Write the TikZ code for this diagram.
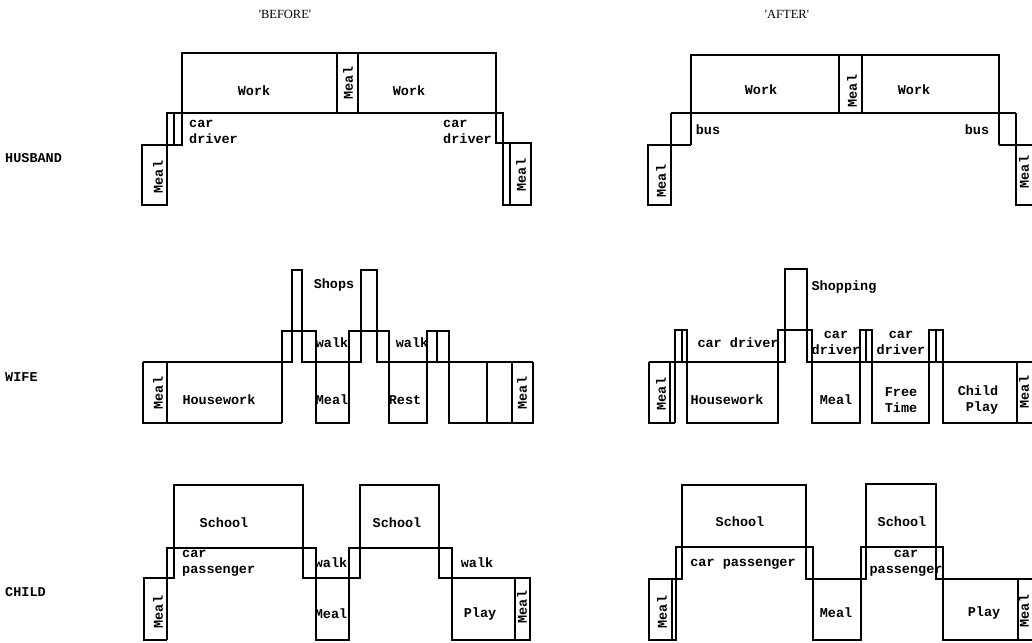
\documentclass[tikz,border=0pt]{standalone}
\usepackage{fontspec}
\setmonofont{Liberation Mono}
\newfontfamily\ttlfont{Liberation Serif}
\usepackage{tikz}
\newcommand\twfont{\fontsize{13.5}{16}\selectfont\ttfamily\bfseries}

\begin{document}
\begin{tikzpicture}[x=1pt,y=-1pt]
    \tikzset{
      tline/.style={line width=1.4pt},
      tlab/.style={font=\twfont, inner sep=0pt, align=center},
      tmeal/.style={tlab, rotate=90},
      trow/.style={font=\twfont, inner sep=0pt, anchor=west},
      ttitle/.style={font=\ttlfont\fontsize{12.5}{14}\selectfont, inner sep=0pt}
    }
    \useasboundingbox (0,0) rectangle (1032,642);

    % Titles and rows
    \node[ttitle] (tbefore) at (285,14) {\textquotesingle BEFORE\textquotesingle};
    \node[ttitle] (tafter) at (787,14) {\textquotesingle AFTER\textquotesingle};
    \node[trow] (rhusband) at (5,158) {HUSBAND};
    \node[trow] (rwife) at (5,377) {WIFE};
    \node[trow] (rchild) at (5,592) {CHILD};

    % Husband, before
    \draw[tline] (182,53) rectangle (496,113);
    \draw[tline] (337,53) -- (337,113) (358,53) -- (358,113);
    \draw[tline] (167,113) rectangle (182,145);
    \draw[tline] (174,113) -- (174,145);
    \draw[tline] (142,145) rectangle (167,205);
    \draw[tline] (496,113) rectangle (503,143);
    \draw[tline] (503,143) rectangle (531,205);
    \draw[tline] (510,143) -- (510,205);
    \node[tlab] (hbwork1) at (254,91) {Work};
    \node[tmeal] (hbmeal2) at (348,83) {Meal};
    \node[tlab] (hbwork2) at (409,91) {Work};
    \node[tlab, anchor=west, align=left] (hbcar1) at (189,132) {car\\driver};
    \node[tlab, anchor=west, align=left] (hbcar2) at (443,132) {car\\driver};
    \node[tmeal] (hbmeal1) at (158,177) {Meal};
    \node[tmeal] (hbmeal3) at (521,175) {Meal};

    % Husband, after
    \draw[tline] (691,55) rectangle (999,113);
    \draw[tline] (839,55) -- (839,113) (862,55) -- (862,113);
    \draw[tline] (671,113) -- (1016,113);
    \draw[tline] (671,113) -- (671,145) (691,113) -- (691,145) (999,113) -- (999,145);
    \draw[tline] (648,145) rectangle (671,205);
    \draw[tline] (671,145) -- (691,145);
    \draw[tline] (999,145) -- (1034,145) (1016,113) -- (1016,205) -- (1034,205);
    \node[tlab] (hawork1) at (761,90) {Work};
    \node[tmeal] (hameal2) at (852,91) {Meal};
    \node[tlab] (hawork2) at (914,90) {Work};
    \node[tlab] (habus1) at (708,130) {bus};
    \node[tlab] (habus2) at (977,130) {bus};
    \node[tmeal] (hameal1) at (661,181) {Meal};
    \node[tmeal] (hameal3) at (1024,172) {Meal};

    % Wife, before
    \draw[tline] (143,362) -- (292,362) -- (292,270) -- (302,270) -- (302,362) -- (361,362)
      -- (361,270) -- (377,270) -- (377,362) -- (533,362);
    \draw[tline] (143,362) -- (143,423) -- (282,423) (167,362) -- (167,423);
    \draw[tline] (282,423) -- (282,331) -- (316,331) -- (316,423) -- (349,423) -- (349,331)
      -- (389,331) -- (389,423) -- (427,423) -- (427,331) -- (449,331) -- (449,423)
      -- (533,423) -- (533,362);
    \draw[tline] (437,331) -- (437,362) (487,362) -- (487,423) (512,362) -- (512,423);
    \node[tlab] (wbshops) at (334,285) {Shops};
    \node[tlab] (wbwalk1) at (332,343) {walk};
    \node[tlab] (wbwalk2) at (412,343) {walk};
    \node[tmeal] (wbmeal1) at (158,393) {Meal};
    \node[tlab] (wbhouse) at (219,400) {Housework};
    \node[tlab] (wbmeal2) at (332,400) {Meal};
    \node[tlab] (wbrest) at (405,400) {Rest};
    \node[tmeal] (wbmeal3) at (522,393) {Meal};

    % Wife, after
    \draw[tline] (649,362) -- (785,362) -- (785,269) -- (807,269) -- (807,362) -- (1034,362);
    \draw[tline] (649,362) -- (649,423) -- (675,423) (670,362) -- (670,423);
    \draw[tline] (675,423) -- (675,330) -- (687,330) -- (687,423) -- (778,423) -- (778,330)
      -- (812,330) -- (812,423) -- (860,423) -- (860,330) -- (872,330) -- (872,423)
      -- (929,423) -- (929,330) -- (943,330) -- (943,423) -- (1034,423);
    \draw[tline] (682,330) -- (682,362) (866,330) -- (866,362) (936,330) -- (936,362)
      (1017,362) -- (1017,423);
    \node[tlab] (washop) at (844,287) {Shopping};
    \node[tlab] (wacar1) at (738,343) {car driver};
    \node[tlab] (wacar2) at (836,343) {car\\driver};
    \node[tlab] (wacar3) at (901,343) {car\\driver};
    \node[tmeal] (wameal1) at (661,394) {Meal};
    \node[tlab] (wahouse) at (727,400) {Housework};
    \node[tlab] (wameal2) at (836,400) {Meal};
    \node[tlab] (wafree) at (901,400) {Free\\Time};
    \node[tlab, align=right] (waplay) at (978,400) {Child\\Play};
    \node[tmeal] (wameal3) at (1024,392) {Meal};

    % Child, before
    \draw[tline] (174,485) rectangle (303,548);
    \draw[tline] (174,548) -- (174,578) -- (144,578) -- (144,640) -- (167,640);
    \draw[tline] (167,640) -- (167,548) -- (316,548) -- (316,640) -- (349,640) -- (349,548)
      -- (452,548) -- (452,640) -- (530,640) -- (530,578) -- (439,578) -- (439,485)
      -- (360,485) -- (360,578) -- (303,578) -- (303,548);
    \draw[tline] (515,578) -- (515,640);
    \node[tlab] (cbschool1) at (224,523) {School};
    \node[tlab] (cbschool2) at (397,523) {School};
    \node[tlab, anchor=west, align=left] (cbcar) at (182,563) {car\\passenger};
    \node[tlab] (cbwalk1) at (331,563) {walk};
    \node[tlab] (cbwalk2) at (477,563) {walk};
    \node[tmeal] (cbmeal1) at (158,612) {Meal};
    \node[tlab] (cbmeal2) at (331,614) {Meal};
    \node[tlab] (cbplay) at (480,614) {Play};
    \node[tmeal] (cbmeal3) at (522,607) {Meal};

    % Child, after
    \draw[tline] (682,485) rectangle (806,547);
    \draw[tline] (682,547) -- (682,579) -- (649,579) -- (649,640) -- (676,640) -- (676,547)
      -- (813,547) -- (813,640) -- (861,640) -- (861,547) -- (943,547) -- (943,640) -- (1034,640);
    \draw[tline] (672,579) -- (672,640);
    \draw[tline] (806,547) -- (806,579) -- (866,579) -- (866,484) -- (936,484) -- (936,579) -- (1034,579);
    \draw[tline] (1018,579) -- (1018,640);
    \node[tlab] (caschool1) at (740,522) {School};
    \node[tlab] (caschool2) at (902,522) {School};
    \node[tlab] (cacar1) at (743,564) {car passenger};
    \node[tlab] (cacar2) at (906,563) {car\\passenger};
    \node[tmeal] (cameal1) at (662,612) {Meal};
    \node[tlab] (cameal2) at (836,613) {Meal};
    \node[tlab] (caplay) at (984,613) {Play};
    \node[tmeal] (cameal3) at (1024,611) {Meal};
  \end{tikzpicture}
\end{document}
